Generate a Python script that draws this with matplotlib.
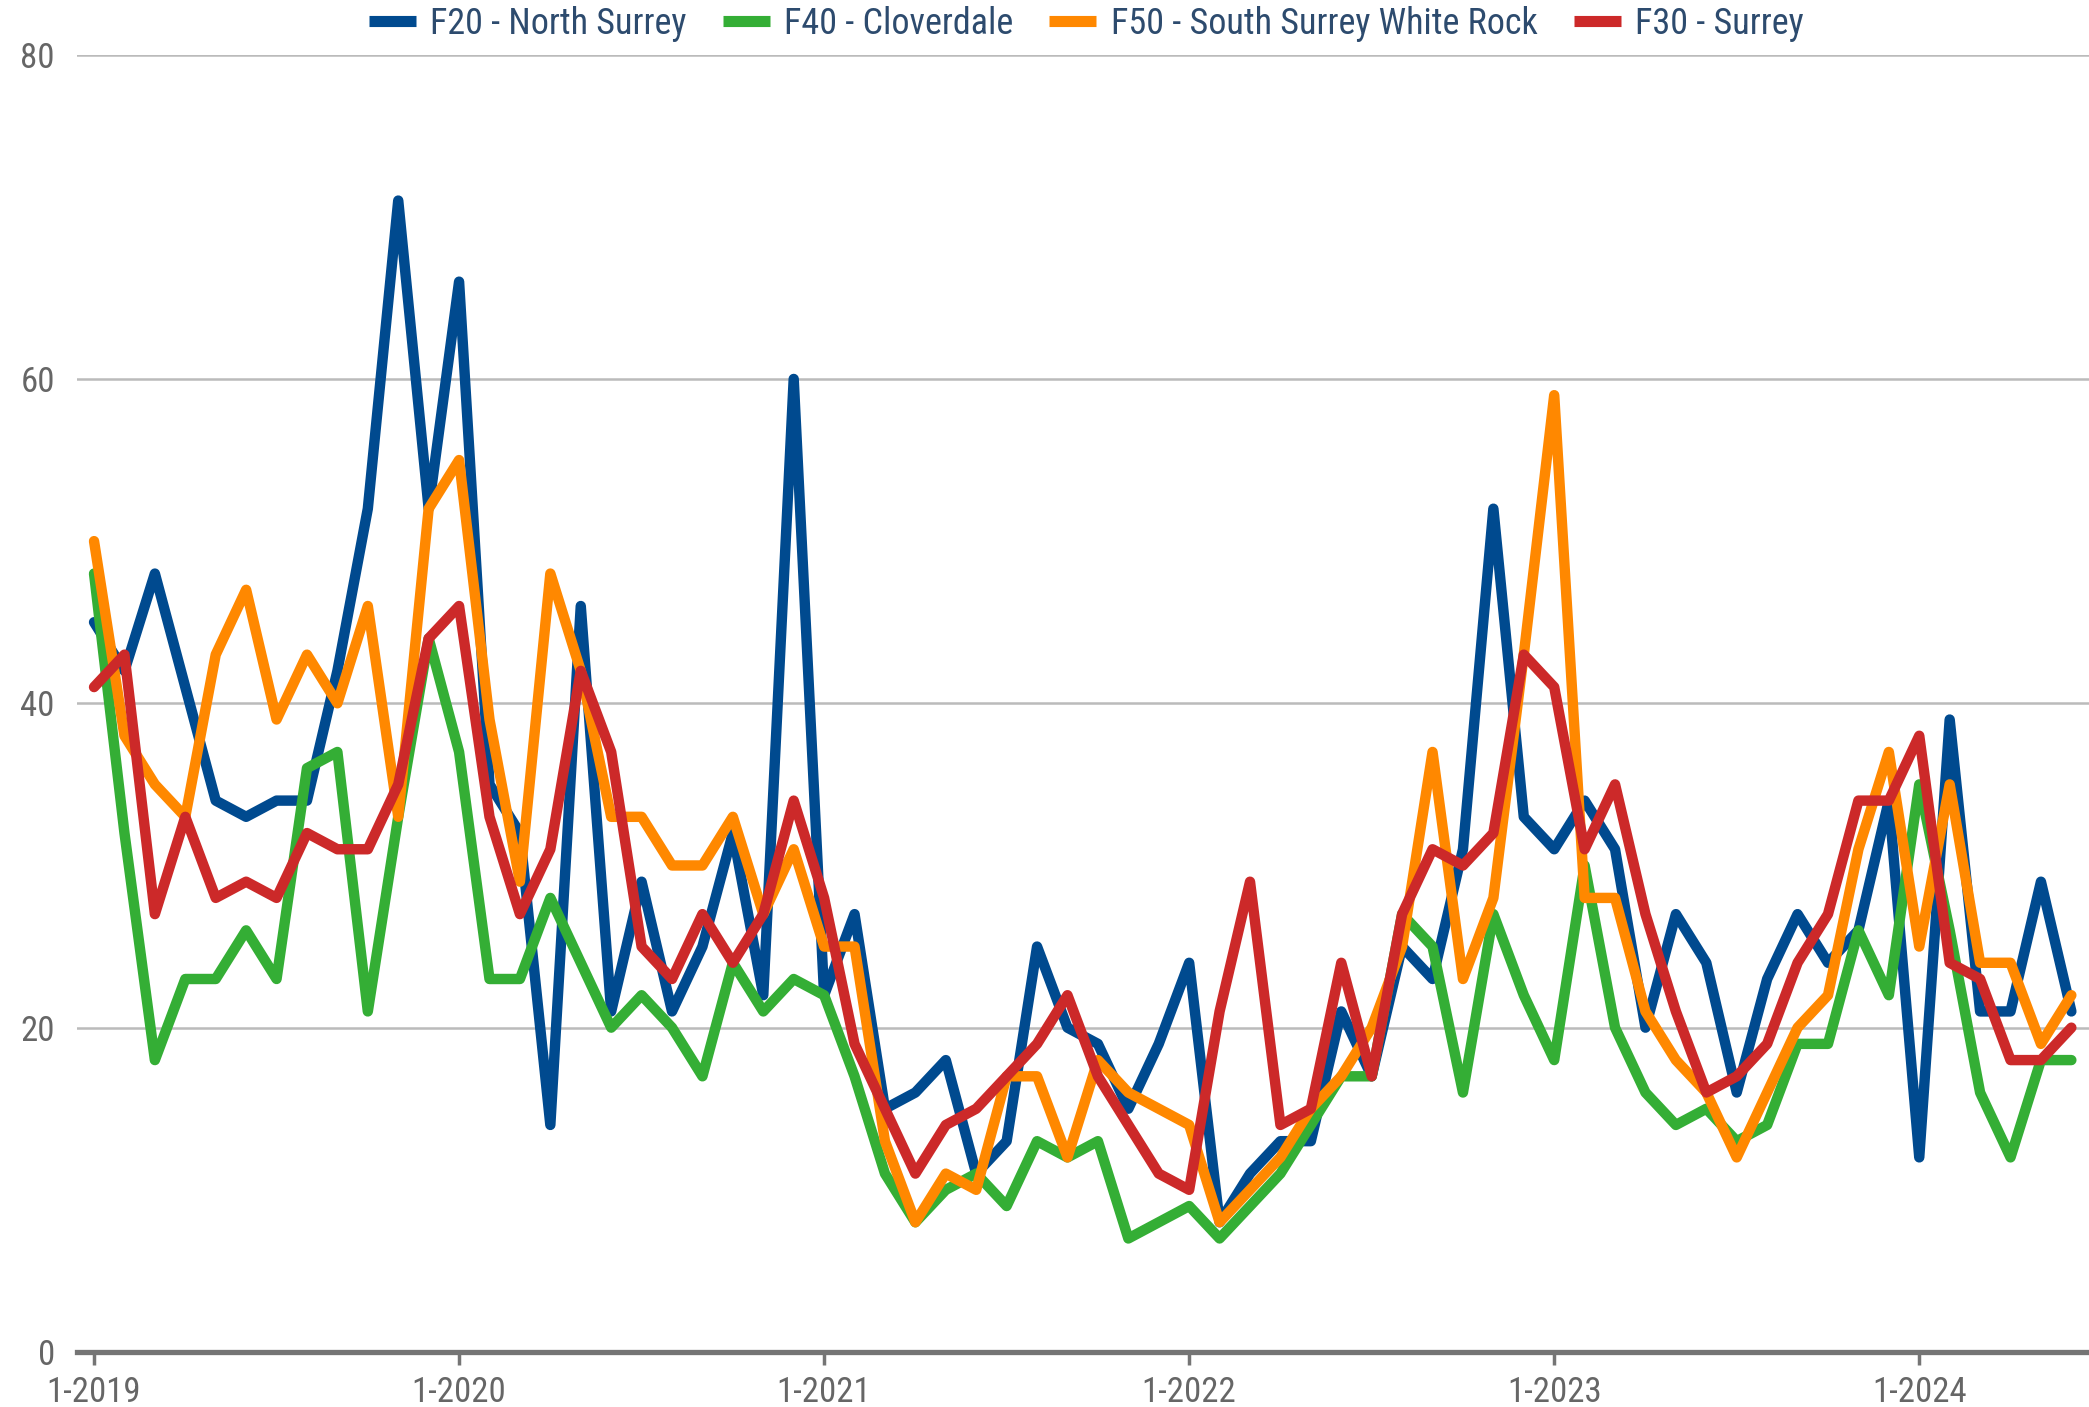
import matplotlib
matplotlib.use("Agg")
import matplotlib.pyplot as plt
import numpy as np

plt.rcParams['font.family'] = ['Roboto Condensed', 'Archivo Narrow', 'Liberation Sans', 'DejaVu Sans']

# monthly values, 1-2019 .. 6-2024
f20 = [45, 42, 48, 41, 34, 33, 34, 34, 42, 52, 71, 52, 66, 35, 32, 14, 46, 21, 29, 21,
       25, 32, 22, 60, 22, 27, 15, 16, 18, 11, 13, 25, 20, 19, 15, 19, 24, 8, 11, 13,
       13, 21, 17, 25, 23, 31, 52, 33, 31, 34, 31, 20, 27, 24, 16, 23, 27, 24, 26, 34,
       12, 39, 21, 21, 29, 21]
f40 = [48, 32, 18, 23, 23, 26, 23, 36, 37, 21, 33, 44, 37, 23, 23, 28, 24, 20, 22, 20,
       17, 24, 21, 23, 22, 17, 11, 8, 10, 11, 9, 13, 12, 13, 7, 8, 9, 7, 9, 11,
       14, 17, 17, 27, 25, 16, 27, 22, 18, 30, 20, 16, 14, 15, 13, 14, 19, 19, 26, 22,
       35, 26, 16, 12, 18, 18]
f50 = [50, 38, 35, 33, 43, 47, 39, 43, 40, 46, 33, 52, 55, 39, 29, 48, 42, 33, 33, 30,
       30, 33, 27, 31, 25, 25, 13, 8, 11, 10, 17, 17, 12, 18, 16, 15, 14, 8, 10, 12,
       15, 17, 20, 25, 37, 23, 28, 43, 59, 28, 28, 21, 18, 16, 12, 16, 20, 22, 31, 37,
       25, 35, 24, 24, 19, 22]
f30 = [41, 43, 27, 33, 28, 29, 28, 32, 31, 31, 35, 44, 46, 33, 27, 31, 42, 37, 25, 23,
       27, 24, 27, 34, 28, 19, 15, 11, 14, 15, 17, 19, 22, 17, 14, 11, 10, 21, 29, 14,
       15, 24, 17, 27, 31, 30, 32, 43, 41, 31, 35, 27, 21, 16, 17, 19, 24, 27, 34, 34,
       38, 24, 23, 18, 18, 20]

series_names = ["F20 - North Surrey", "F40 - Cloverdale", "F50 - South Surrey White Rock", "F30 - Surrey"]
series_colors = ["#004a8f", "#34ae35", "#ff8800", "#cc2929"]
year_labels = ["1-2019", "1-2020", "1-2021", "1-2022", "1-2023", "1-2024"]
y_ticks = [0, 20, 40, 60, 80]

fig = plt.figure(figsize=(20.89, 14.07), dpi=100)
ax = fig.add_axes([77 / 2089, 1 - 1352 / 1407, 1 - 77 / 2089, (1352 - 54.6) / 1407])

x = np.arange(len(f20))
for i, (vals, name, col) in enumerate(zip([f20, f40, f50, f30], series_names, series_colors)):
    ax.plot(x, vals, color=col, lw=7.5, label=name, solid_joinstyle='round',
            solid_capstyle='round', zorder=3 + i, clip_on=False)

ax.set_xlim(-0.56, 65.58)
ax.set_ylim(0, 80)

# gridlines
ax.set_yticks(y_ticks)
ax.set_yticklabels([str(v) for v in y_ticks])
ax.yaxis.grid(True, color="#bbbbbb", lw=1.8)
ax.set_axisbelow(True)

ax.set_xticks(np.arange(0, len(f20), 12))
ax.set_xticklabels(year_labels)

for s in ["top", "right", "left"]:
    ax.spines[s].set_visible(False)
ax.spines["bottom"].set_color("#757575")
ax.spines["bottom"].set_linewidth(3.8)
ax.spines["bottom"].set_zorder(10)

ax.tick_params(axis='x', colors="#757575", length=9, width=2.5, labelsize=25,
               labelcolor="#666666", pad=8)
ax.tick_params(axis='y', length=0, labelsize=25, labelcolor="#666666", pad=16)

leg = fig.legend(loc='upper center', bbox_to_anchor=(0.52, 1.019), ncol=4, frameon=False,
                 fontsize=26, handlelength=1.3, handletextpad=0.4, columnspacing=1.0)
for h in leg.get_lines():
    h.set_linewidth(8)
    h.set_solid_capstyle('butt')
for t in leg.get_texts():
    t.set_color("#2d4b6e")

fig.savefig("out.png", dpi=100)
